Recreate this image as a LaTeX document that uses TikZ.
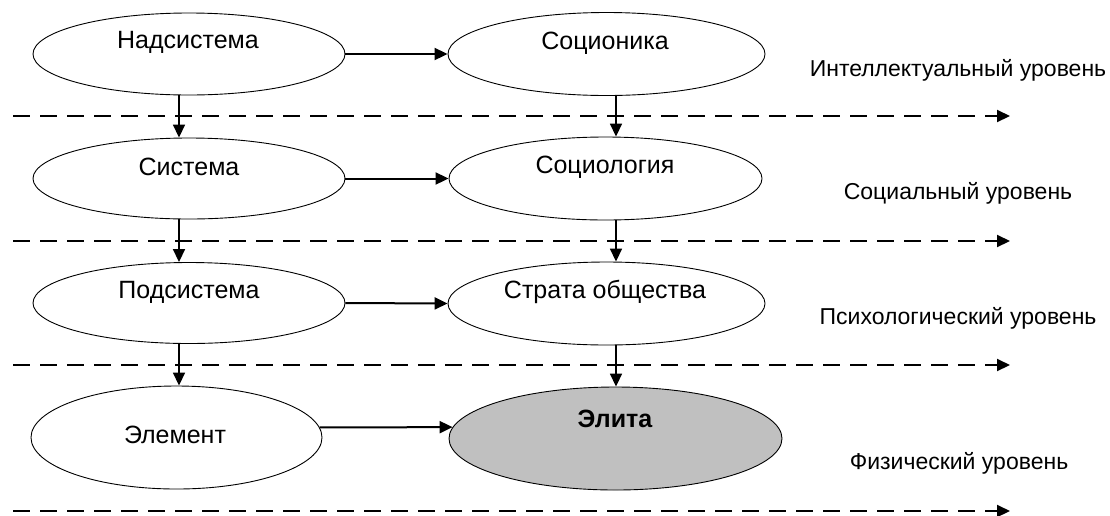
\documentclass[tikz,border=0pt]{standalone}
\usepackage{fontspec}
\setmainfont{Liberation Sans}
\usetikzlibrary{arrows.meta,shapes.geometric}
\begin{document}
\begin{tikzpicture}[x=1pt,y=-1pt,
  ell/.style={draw=black,line width=0.9pt,ellipse,inner sep=0pt,fill=white},
  txt/.style={font=\fontsize{25}{30}\selectfont,inner sep=0pt},
  lvl/.style={font=\fontsize{23}{28}\selectfont,inner sep=0pt},
  arr/.style={line width=1.7pt,-{Triangle[length=13pt,width=12pt]}},
  harr/.style={arr,line width=2pt},
  dsh/.style={line width=2pt,dash pattern=on 17pt off 10pt,-{Triangle[length=13pt,width=12pt]}}
]
\useasboundingbox (0,0) rectangle (1110,515);

% dashed level lines
\coordinate (d1a) at (13,116);  \coordinate (d1b) at (1010,116);
\coordinate (d2a) at (13,241);  \coordinate (d2b) at (1010,241);
\coordinate (d3a) at (13,365);  \coordinate (d3b) at (1010,365);
\coordinate (d4a) at (13,511);  \coordinate (d4b) at (1010,511);
\draw[dsh] (d1a) -- (d1b);
\draw[dsh] (d2a) -- (d2b);
\draw[dsh] (d3a) -- (d3b);
\draw[dsh] (d4a) -- (d4b);

% ellipses
\node[ell,minimum width=312pt,minimum height=82pt] (nad) at (189,54) {};
\node[ell,minimum width=317pt,minimum height=83pt] (soc) at (606.5,54) {};
\node[ell,minimum width=312pt,minimum height=81pt] (sys) at (189,178.5) {};
\node[ell,minimum width=313pt,minimum height=83pt] (sgy) at (605.5,178.5) {};
\node[ell,minimum width=312pt,minimum height=81pt] (pod) at (189,303) {};
\node[ell,minimum width=317pt,minimum height=83pt] (str) at (606.5,303.5) {};
\node[ell,minimum width=291pt,minimum height=103pt] (elem) at (176.5,437.5) {};
\node[ell,fill={rgb,255:red,192;green,192;blue,192},minimum width=333pt,minimum height=103pt] (elit) at (615.5,438.5) {};

% ellipse texts
\node[txt] (tnad) at (188,42) {Надсистема};
\node[txt] (tsoc) at (605,43) {Соционика};
\node[txt] (tsys) at (189,167) {Система};
\node[txt] (tsgy) at (605,167) {Социология};
\node[txt] (tpod) at (189,292) {Подсистема};
\node[txt] (tstr) at (605,292) {Страта общества};
\node[txt] (telem) at (175,435) {Элемент};
\node[txt,font=\fontsize{25}{30}\selectfont\bfseries] (telit) at (615,419) {Элита};

% level labels
\node[lvl] (l1) at (958,70) {Интеллектуальный уровень};
\node[lvl] (l2) at (958,193) {Социальный уровень};
\node[lvl] (l3) at (958,318) {Психологический уровень};
\node[lvl] (l4) at (959,463) {Физический уровень};

% horizontal arrows
\draw[harr] (nad.east) -- (soc.west);
\draw[harr] (sys.east) -- (sgy.west);
\draw[harr] (pod.east) -- (str.west);
\draw[harr] (elem.4) -- (elit.176.5);

% vertical arrows
\coordinate (xL) at (179,0);
\coordinate (xR) at (616,0);
\draw[arr] (nad.south -| xL) -- (sys.north -| xL);
\draw[arr] (sys.south -| xL) -- (pod.north -| xL);
\draw[arr] (pod.south -| xL) -- (elem.north -| xL);
\draw[arr] (soc.south -| xR) -- (sgy.north -| xR);
\draw[arr] (sgy.south -| xR) -- (str.north -| xR);
\draw[arr] (str.south -| xR) -- (elit.north -| xR);
\end{tikzpicture}
\end{document}
